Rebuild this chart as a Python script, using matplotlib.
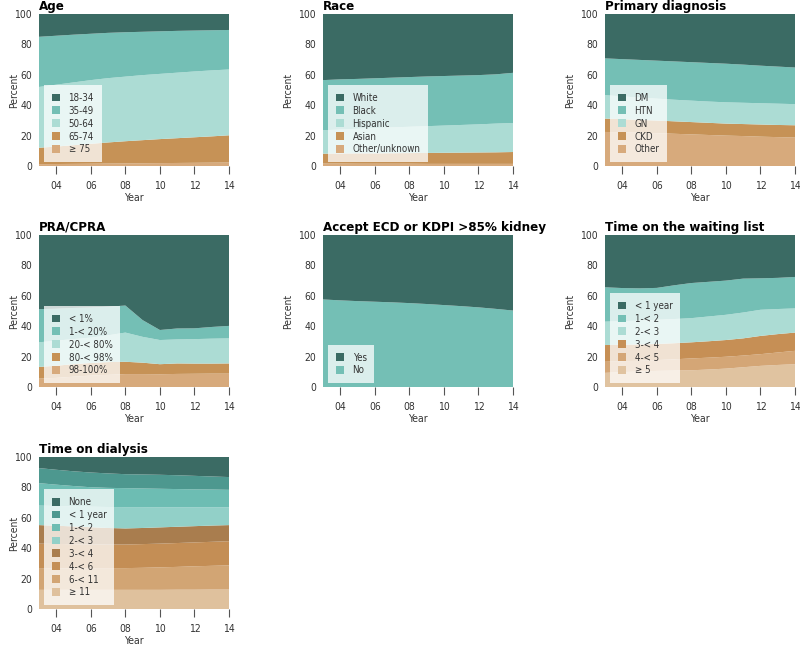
import matplotlib
matplotlib.use("Agg")
import matplotlib.pyplot as plt
from matplotlib import font_manager
from matplotlib.patches import Patch

# prefer a narrow sans if the system has one
names = {(f.name, f.stretch) for f in font_manager.fontManager.ttflist}
if any(n == 'Liberation Sans Narrow' for n, s in names):
    plt.rcParams['font.family'] = ['Liberation Sans Narrow', 'DejaVu Sans']
elif ('DejaVu Sans', 'condensed') in names or ('DejaVu Sans', 'semi-condensed') in names:
    plt.rcParams['font.family'] = ['DejaVu Sans']
    plt.rcParams['font.stretch'] = 'condensed'
else:
    plt.rcParams['font.family'] = ['Roboto', 'DejaVu Sans']

years = list(range(2003, 2015))
xticks = [2004, 2006, 2008, 2010, 2012, 2014]
xtick_labels = ['04', '06', '08', '10', '12', '14']

# ---- data (percent of wait-listed candidates, bottom layer first) ----
age_labels = ['18-34', '35-49', '50-64', '65-74', '\u2265 75']
age_75 = [1.2, 1.3, 1.4, 1.5, 1.6, 1.7, 1.8, 1.9, 2.0, 2.1, 2.2, 2.3]
age_65 = [10.8, 11.5, 12.3, 13.1, 13.9, 14.6, 15.2, 15.8, 16.3, 16.8, 17.3, 17.9]
age_50 = [40.0, 40.7, 41.3, 41.9, 42.3, 42.5, 42.8, 42.9, 43.1, 43.3, 43.4, 43.3]
age_35 = [33.0, 32.2, 31.4, 30.5, 29.8, 29.2, 28.5, 28.0, 27.5, 26.9, 26.4, 26.0]
age_18 = [15.0, 14.3, 13.6, 13.0, 12.4, 12.0, 11.7, 11.4, 11.1, 10.9, 10.7, 10.5]

race_labels = ['White', 'Black', 'Hispanic', 'Asian', 'Other/unknown']
race_other = [1.6, 1.6, 1.5, 1.5, 1.5, 1.5, 1.4, 1.4, 1.4, 1.4, 1.4, 1.4]
race_asian = [6.5, 6.6, 6.8, 6.8, 6.9, 7.0, 7.2, 7.3, 7.4, 7.5, 7.6, 7.8]
race_hisp = [15.4, 15.8, 16.2, 16.7, 17.0, 17.3, 17.6, 17.9, 18.2, 18.5, 18.9, 19.1]
race_black = [33.0, 33.0, 32.8, 32.7, 32.7, 32.7, 32.7, 32.6, 32.5, 32.4, 32.4, 33.0]
race_white = [43.5, 43.0, 42.7, 42.3, 41.9, 41.5, 41.1, 40.8, 40.5, 40.2, 39.7, 38.7]

dx_labels = ['DM', 'HTN', 'GN', 'CKD', 'Other']
dx_other = [22.4, 22.2, 21.9, 21.6, 21.2, 20.8, 20.4, 20.0, 19.7, 19.3, 19.0, 18.7]
dx_ckd = [8.8, 8.6, 8.4, 8.3, 8.2, 8.1, 8.0, 7.9, 7.9, 8.0, 8.0, 8.1]
dx_gn = [15.4, 15.0, 14.7, 14.4, 14.2, 14.1, 14.0, 14.0, 14.0, 14.0, 14.0, 13.9]
dx_htn = [24.2, 24.5, 24.8, 25.0, 25.2, 25.3, 25.4, 25.4, 25.1, 24.7, 24.4, 24.1]
dx_dm = [29.2, 29.7, 30.2, 30.7, 31.2, 31.7, 32.2, 32.7, 33.3, 34.0, 34.6, 35.2]

pra_labels = ['< 1%', '1-< 20%', '20-< 80%', '80-< 98%', '98-100%']
pra_98 = [5.5, 6.0, 6.8, 7.5, 8.0, 8.5, 8.5, 8.4, 8.6, 8.7, 8.8, 8.8]
pra_80 = [7.7, 8.0, 8.2, 8.3, 8.4, 8.1, 7.5, 6.6, 6.9, 6.7, 6.6, 6.7]
pra_20 = [16.2, 16.5, 16.5, 16.7, 17.6, 19.2, 17.0, 15.9, 15.8, 16.1, 16.4, 16.5]
pra_1 = [21.8, 21.0, 20.5, 19.8, 18.8, 17.8, 11.0, 6.6, 7.2, 7.1, 7.7, 8.2]
pra_0 = [48.8, 48.5, 48.0, 47.7, 47.2, 46.4, 56.0, 62.5, 61.5, 61.4, 60.5, 59.8]

ecd_labels = ['Yes', 'No']
ecd_no = [57.6, 57.0, 56.5, 56.1, 55.7, 55.2, 54.6, 53.9, 53.2, 52.4, 51.4, 50.3]
ecd_yes = [42.4, 43.0, 43.5, 43.9, 44.3, 44.8, 45.4, 46.1, 46.8, 47.6, 48.6, 49.7]

wait_labels = ['< 1 year', '1-< 2', '2-< 3', '3-< 4', '4-< 5', '\u2265 5']
wait_5 = [9.3, 9.8, 10.2, 10.6, 10.8, 11.0, 11.5, 12.1, 13.0, 13.9, 14.5, 15.0]
wait_4 = [7.3, 7.1, 7.1, 7.1, 7.4, 7.8, 7.8, 7.8, 7.7, 7.7, 8.2, 8.8]
wait_3 = [11.0, 10.9, 10.7, 10.6, 10.6, 10.6, 10.8, 11.0, 11.3, 12.0, 12.1, 12.0]
wait_2 = [15.4, 15.5, 15.7, 15.9, 15.9, 15.9, 16.3, 16.6, 17.0, 17.2, 16.5, 15.9]
wait_1 = [22.6, 21.8, 21.2, 21.0, 22.2, 23.1, 22.8, 22.5, 22.3, 20.7, 20.5, 20.7]
wait_0 = [34.4, 34.9, 35.1, 34.8, 33.1, 31.6, 30.8, 30.0, 28.7, 28.5, 28.2, 27.6]

dial_labels = ['None', '< 1 year', '1-< 2', '2-< 3', '3-< 4', '4-< 6', '6-< 11', '\u2265 11']
dial_11 = [12.6, 12.6, 12.6, 12.6, 12.6, 12.6, 12.6, 12.6, 12.7, 12.7, 12.8, 12.8]
dial_6 = [13.9, 14.1, 14.2, 14.3, 14.3, 14.3, 14.5, 14.8, 15.0, 15.4, 15.6, 15.9]
dial_4 = [16.5, 16.1, 15.8, 15.6, 15.5, 15.5, 15.6, 15.6, 15.7, 15.7, 15.8, 15.9]
dial_3 = [12.2, 12.0, 11.7, 11.3, 10.9, 10.6, 10.6, 10.7, 10.7, 10.7, 10.7, 10.6]
dial_2 = [12.8, 13.0, 13.2, 13.5, 13.8, 14.0, 13.7, 13.2, 12.8, 12.4, 12.0, 11.7]
dial_1 = [14.8, 14.0, 13.4, 12.8, 12.6, 12.5, 12.3, 12.2, 12.0, 11.8, 11.7, 11.5]
dial_0 = [9.9, 9.8, 9.7, 9.7, 9.5, 9.2, 9.2, 9.2, 9.1, 8.9, 8.6, 8.4]
dial_none = [7.3, 8.4, 9.4, 10.2, 10.8, 11.3, 11.5, 11.7, 12.0, 12.4, 12.8, 13.2]

# colours (top layer first, same order as legend)
c5 = ['#3b6b64', '#74bfb5', '#acdcd4', '#c69256', '#d7aa7c']
c2 = ['#3b6b64', '#74bfb5']
c6 = ['#3b6b64', '#74bfb5', '#acdcd4', '#c68f55', '#d4a676', '#e0c3a0']
c8 = ['#3b6b64', '#4d988f', '#6dbdb3', '#92d0c8', '#a97d4e', '#c48e55', '#d2a574', '#dfc19d']

fig = plt.figure(figsize=(8, 6.46), dpi=100)

cols = [39 / 800, 323 / 800, 605 / 800]
rows = [1 - 166 / 646, 1 - 387 / 646, 1 - 609 / 646]
w, h = 190 / 800, 152 / 646


def panel(col, row, title, labels, series, colors):
    ax = fig.add_axes([cols[col], rows[row], w, h])
    # series given bottom-first, colors/labels top-first
    ax.stackplot(years, *series, colors=colors[::-1], linewidth=0)
    ax.set_xlim(2003, 2014)
    ax.set_ylim(0, 100)
    ax.set_xticks(xticks)
    ax.set_xticklabels(xtick_labels)
    ax.set_yticks([0, 20, 40, 60, 80, 100])
    for s in ax.spines.values():
        s.set_visible(False)
    ax.tick_params(axis='x', length=6, width=0.8, color='#555555', labelsize=7.5,
                   pad=5, labelcolor='#333333')
    ax.tick_params(axis='y', length=0, labelsize=7.5, pad=5, labelcolor='#333333')
    ax.set_xlabel('Year', fontsize=7.5, labelpad=1, color='#333333')
    ax.set_ylabel('Percent', fontsize=7.5, color='#333333')
    ax.yaxis.set_label_coords(-0.105 if col == 0 else -0.157, 0.5)
    ax.set_title(title, loc='left', fontsize=9.5, fontweight='bold', pad=3)
    handles = [Patch(facecolor=c, edgecolor='none') for c in colors]
    leg = ax.legend(handles, labels, loc='lower left', bbox_to_anchor=(0.025, 0.025),
                    borderaxespad=0, fontsize=7, frameon=True, fancybox=False,
                    handlelength=0.85, handleheight=0.85, handletextpad=0.9,
                    labelspacing=0.3, borderpad=0.8)
    for t in leg.get_texts():
        t.set_color('#333333')
    leg.get_frame().set_facecolor('white')
    leg.get_frame().set_alpha(0.75)
    leg.get_frame().set_linewidth(0)
    return ax


panel(0, 0, 'Age', age_labels, [age_75, age_65, age_50, age_35, age_18], c5)
panel(1, 0, 'Race', race_labels, [race_other, race_asian, race_hisp, race_black, race_white], c5)
panel(2, 0, 'Primary diagnosis', dx_labels, [dx_other, dx_ckd, dx_gn, dx_htn, dx_dm], c5)
panel(0, 1, 'PRA/CPRA', pra_labels, [pra_98, pra_80, pra_20, pra_1, pra_0], c5)
panel(1, 1, 'Accept ECD or KDPI >85% kidney', ecd_labels, [ecd_no, ecd_yes], c2)
panel(2, 1, 'Time on the waiting list', wait_labels,
      [wait_5, wait_4, wait_3, wait_2, wait_1, wait_0], c6)
panel(0, 2, 'Time on dialysis', dial_labels,
      [dial_11, dial_6, dial_4, dial_3, dial_2, dial_1, dial_0, dial_none], c8)

fig.savefig('out.png', dpi=100)
